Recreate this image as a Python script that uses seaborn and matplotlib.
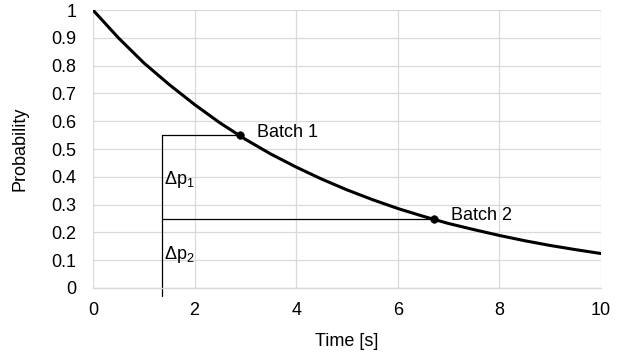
import matplotlib
matplotlib.use("Agg")
import matplotlib.pyplot as plt
from matplotlib.ticker import FuncFormatter, MultipleLocator
import pandas as pd
import seaborn as sns

# ---------------------------------------------------------------------------
# Data
# ---------------------------------------------------------------------------
time_s = [0.0, 0.5, 1.0, 1.5, 2.0, 2.5, 3.0, 3.5, 4.0, 4.5, 5.0,
          5.5, 6.0, 6.5, 7.0, 7.5, 8.0, 8.5, 9.0, 9.5, 10.0]
probability = [1.0, 0.90, 0.81, 0.732, 0.66, 0.594, 0.535, 0.482, 0.435, 0.392, 0.353,
               0.318, 0.286, 0.258, 0.232, 0.210, 0.189, 0.170, 0.153, 0.138, 0.124]

batch_names = ["Batch 1", "Batch 2"]
batch_time = [2.9, 6.72]
batch_prob = [0.55, 0.25]
start_time = 1.36
delta_labels = [r"$\Delta$p$_1$", r"$\Delta$p$_2$"]
delta_label_y = [0.39, 0.12]

curve = pd.DataFrame({"time": time_s, "prob": probability})
batches = pd.DataFrame({"time": batch_time, "prob": batch_prob, "name": batch_names})

# ---------------------------------------------------------------------------
# Style
# ---------------------------------------------------------------------------
sns.set_theme(style="whitegrid")
plt.rcParams["font.family"] = ["Liberation Sans", "DejaVu Sans"]
plt.rcParams["mathtext.fontset"] = "custom"
plt.rcParams["mathtext.rm"] = "Liberation Sans"
plt.rcParams["mathtext.it"] = "Liberation Sans"
plt.rcParams["grid.color"] = "#d9d9d9"
plt.rcParams["grid.linewidth"] = 0.9
plt.rcParams["text.color"] = "black"

FS = 13

fig = plt.figure(figsize=(6.34, 3.6), dpi=100)
ax = fig.add_axes([0.1467, 0.2, 0.8013, 0.772])

sns.lineplot(data=curve, x="time", y="prob", ax=ax, color="black", linewidth=2.2)
sns.scatterplot(data=batches, x="time", y="prob", ax=ax, color="black", s=30,
                edgecolor="black", zorder=5)

# bracket lines
ax.plot([start_time, start_time], [-0.03, batch_prob[0]], color="black", lw=0.9,
        clip_on=False)
for t, p in zip(batch_time, batch_prob):
    ax.plot([start_time, t], [p, p], color="black", lw=0.9)

for name, t, p in zip(batch_names, batch_time, batch_prob):
    ax.text(t + 0.32, p + 0.01, name, fontsize=FS, va="center", ha="left", color="black")
for lab, y in zip(delta_labels, delta_label_y):
    ax.text(start_time + 0.04, y, lab, fontsize=FS, va="center", ha="left", color="black")

ax.set_xlim(0, 10)
ax.set_ylim(0, 1)
ax.xaxis.set_major_locator(MultipleLocator(2))
ax.yaxis.set_major_locator(MultipleLocator(0.1))
ax.yaxis.set_major_formatter(FuncFormatter(lambda v, _: f"{v:.1f}".rstrip("0").rstrip(".") if v else "0"))
ax.tick_params(axis="both", labelsize=FS, length=0, colors="black")
ax.tick_params(axis="x", pad=10)
ax.tick_params(axis="y", pad=12)
ax.set_xlabel("Time [s]", fontsize=FS, color="black", labelpad=10)
ax.set_ylabel("Probability", fontsize=FS, color="black", labelpad=16)

for side in ["left", "top", "right"]:
    ax.spines[side].set_visible(False)
ax.spines["bottom"].set_color("#d9d9d9")
ax.spines["bottom"].set_linewidth(1.0)

fig.savefig("out.png", dpi=100)
